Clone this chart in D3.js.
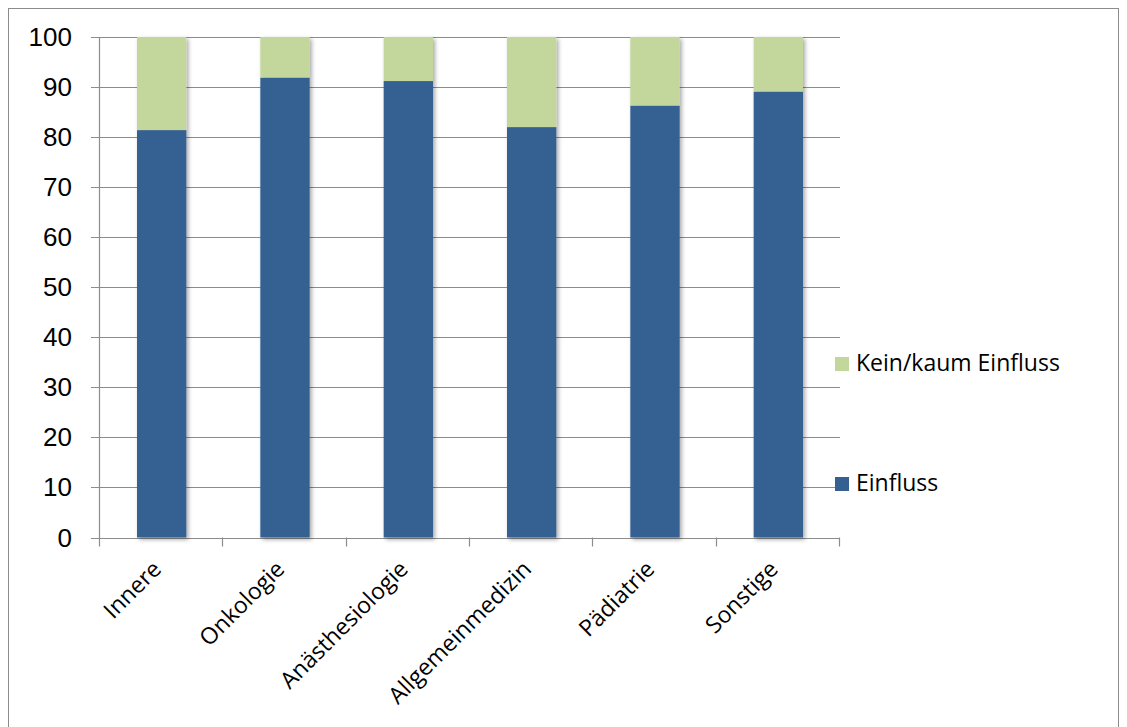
<!DOCTYPE html>
<html><head><meta charset="utf-8">
<script src="https://cdn.jsdelivr.net/npm/d3@7"></script>
<style>body{margin:0;background:#fff}</style>
</head><body>
<svg id="c" width="1127" height="727"></svg>
<script>
const categories = ["Innere","Onkologie","Anästhesiologie","Allgemeinmedizin","Pädiatrie","Sonstige"];
const einfluss = [81.4, 91.9, 91.2, 82.0, 86.3, 89.1];
const keinEinfluss = [18.6, 8.1, 8.8, 18.0, 13.7, 10.9];
const seriesNames = ["Einfluss","Kein/kaum Einfluss"];
const yTicks = [0,10,20,30,40,50,60,70,80,90,100];
const colors = ["#366092","#C3D69B"];

const svg = d3.select("#c");
const pLeft = 100, pRight = 840, pTop = 37, pBottom = 537.5;

svg.append("rect").attr("x",8.5).attr("y",8.5).attr("width",1110).attr("height",730)
  .attr("fill","#fff").attr("stroke","#8c8c8c").attr("stroke-width",1);

const defs = svg.append("defs");
const f = defs.append("filter").attr("id","sh").attr("x","-20%").attr("y","-5%").attr("width","140%").attr("height","110%");
f.append("feGaussianBlur").attr("in","SourceAlpha").attr("stdDeviation",2).attr("result","b");
f.append("feOffset").attr("in","b").attr("dx",1.5).attr("dy",1.5).attr("result","o");
f.append("feComponentTransfer").attr("in","o").attr("result","o2").append("feFuncA").attr("type","linear").attr("slope",0.35);
const m = f.append("feMerge"); m.append("feMergeNode").attr("in","o2"); m.append("feMergeNode").attr("in","SourceGraphic");

const x = d3.scaleBand().domain(categories).range([pLeft,pRight]).padding(0);
const y = d3.scaleLinear().domain([0,100]).range([pBottom,pTop]);

// gridlines
svg.append("g").selectAll("line").data(yTicks).join("line")
  .attr("x1",pLeft-9).attr("x2",pRight).attr("y1",d=>Math.round(y(d))+0.5).attr("y2",d=>Math.round(y(d))+0.5)
  .attr("stroke","#8c8c8c").attr("stroke-width",1.2);

// y labels
svg.append("g").selectAll("text").data(yTicks).join("text")
  .attr("x",72).attr("y",d=>y(d)+9).attr("text-anchor","end")
  .attr("font-family","Liberation Sans, Arial, sans-serif").attr("font-size",26).attr("fill","#000")
  .text(d=>d);

// y axis line
svg.append("line").attr("x1",pLeft-0.5).attr("x2",pLeft-0.5).attr("y1",pTop).attr("y2",pBottom+1)
  .attr("stroke","#8c8c8c").attr("stroke-width",1.2);

// x axis ticks
const xt = categories.map(c=>x(c)).concat([pRight]);
svg.append("g").selectAll("line").data(xt).join("line")
  .attr("x1",d=>Math.round(d)-0.5).attr("x2",d=>Math.round(d)-0.5).attr("y1",pBottom).attr("y2",pBottom+9)
  .attr("stroke","#8c8c8c").attr("stroke-width",1.2);

// stacked bars
const stackData = categories.map((c,i)=>({cat:c, Einfluss:einfluss[i], "Kein/kaum Einfluss":keinEinfluss[i]}));
const stack = d3.stack().keys(seriesNames)(stackData);
const bw = x.bandwidth()*0.4;
const gBars = svg.append("g").attr("filter","url(#sh)");
stack.forEach((s,si)=>{
  gBars.append("g").selectAll("rect").data(s).join("rect")
    .attr("x",d=>x(d.data.cat)+x.bandwidth()/2-bw/2)
    .attr("y",d=>y(Math.min(d[1],100)))
    .attr("width",bw)
    .attr("height",d=>y(d[0])-y(Math.min(d[1],100)))
    .attr("fill",colors[si]);
});

// x labels
svg.append("g").selectAll("text").data(categories).join("text")
  .attr("transform",d=>`translate(${x(d)+x.bandwidth()/2+1},${pBottom+33}) rotate(-45)`)
  .attr("text-anchor","end")
  .attr("font-family","Open Sans, Noto Sans, sans-serif").attr("font-size",23).attr("fill","#000")
  .text(d=>d);

// legend
const legendItems = [{name:"Kein/kaum Einfluss",color:colors[1],y:357},{name:"Einfluss",color:colors[0],y:477}];
const lg = svg.append("g");
lg.selectAll("rect").data(legendItems).join("rect")
  .attr("x",835).attr("y",d=>d.y).attr("width",14).attr("height",14).attr("fill",d=>d.color);
lg.selectAll("text").data(legendItems).join("text")
  .attr("x",856).attr("y",d=>d.y+14)
  .attr("font-family","Open Sans, Noto Sans, sans-serif").attr("font-size",23).attr("fill","#000")
  .text(d=>d.name);
</script>
</body></html>
